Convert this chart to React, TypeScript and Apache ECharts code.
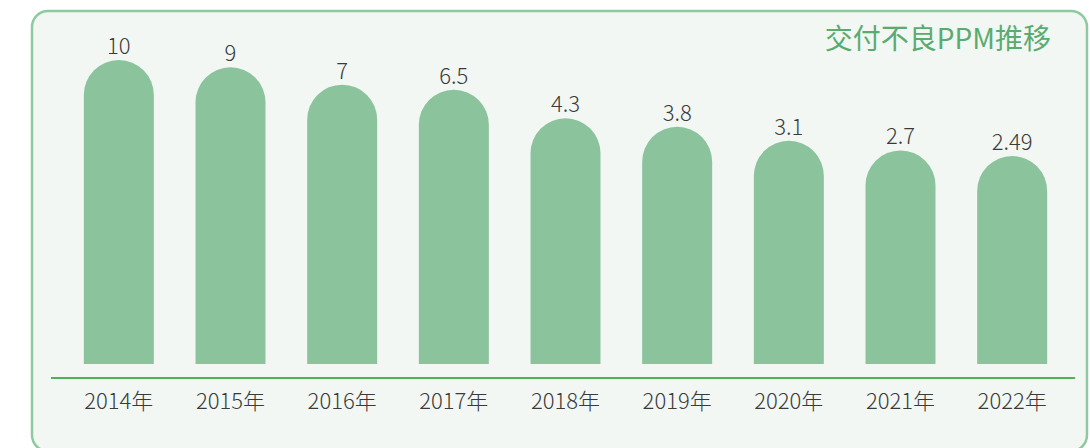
import React, { useEffect, useRef } from "react";
import * as echarts from "echarts";

const categories = ["2014年", "2015年", "2016年", "2017年", "2018年", "2019年", "2020年", "2021年", "2022年"];
const ppmValues = [10, 9, 7, 6.5, 4.3, 3.8, 3.1, 2.7, 2.49];
const titleText = "交付不良PPM推移";

const FONT = '"Noto Sans CJK SC", "Noto Sans", sans-serif';

export default function App() {
  const ref = useRef<HTMLDivElement>(null);

  useEffect(() => {
    document.body.style.margin = "0";
    const chart = echarts.init(ref.current!, null, { renderer: "svg" });
    chart.setOption({
      animation: false,
      backgroundColor: "#ffffff",
      title: {
        text: titleText,
        right: 34,
        top: 18,
        textStyle: {
          fontFamily: FONT,
          fontSize: 28,
          fontWeight: 400,
          color: "#5aab6f",
        },
      },
      graphic: [
        {
          type: "rect",
          z: -10,
          silent: true,
          shape: { x: 32, y: 11, width: 1055, height: 440, r: 16 },
          style: { fill: "#f2f7f3", stroke: "#8dcaa0", lineWidth: 2.5 },
        },
        {
          type: "line",
          z: 10,
          silent: true,
          shape: { x1: 51, y1: 378, x2: 1075, y2: 378 },
          style: { stroke: "#4db35a", lineWidth: 2 },
        },
      ],
      grid: { left: 63, right: 22, top: 60, bottom: 70 },
      xAxis: {
        type: "category",
        data: categories,
        axisLine: { show: false },
        axisTick: { show: false },
        axisLabel: {
          margin: 10,
          fontFamily: FONT,
          fontSize: 22,
          fontWeight: 300,
          color: "#3a3a3a",
        },
      },
      yAxis: {
        type: "log",
        logBase: 10,
        min: 0.1,
        max: 10,
        startValue: 0.1225,
        show: false,
        splitLine: { show: false },
      },
      series: [
        {
          type: "bar",
          data: ppmValues,
          barWidth: 70,
          itemStyle: { color: "#8bc49c", borderRadius: [35, 35, 0, 0] },
          label: {
            show: true,
            position: "top",
            distance: 5,
            fontFamily: FONT,
            fontSize: 22,
            fontWeight: 300,
            color: "#3a3a3a",
          },
        },
      ],
    });
    return () => chart.dispose();
  }, []);

  return <div ref={ref} style={{ width: 1090, height: 448 }} />;
}
